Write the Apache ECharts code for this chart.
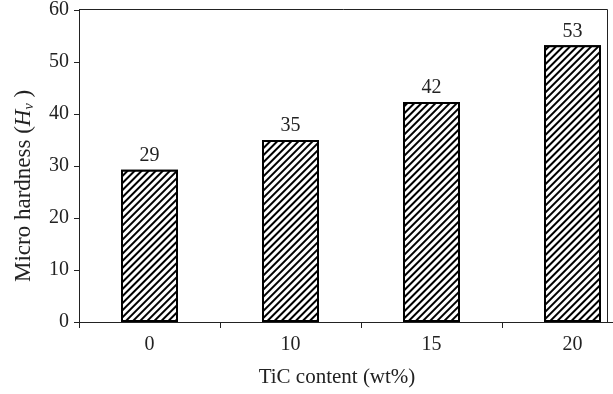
<!DOCTYPE html>
<html><head><meta charset="utf-8">
<script src="https://cdn.jsdelivr.net/npm/echarts@6/dist/echarts.min.js"></script>
<style>html,body{margin:0;padding:0;background:#fff;overflow:hidden;width:613px;height:394px}#c{width:650px;height:394px}</style>
</head><body><div id="c"></div>
<script>
const categories = ['0', '10', '15', '20'];
const hardness = [29.3, 35, 42.3, 53.2];
const barLabels = ['29', '35', '42', '53'];
const yTicks = [0, 10, 20, 30, 40, 50, 60];

const font = '"Liberation Serif", "DejaVu Serif", serif';
const chart = echarts.init(document.getElementById('c'), null, {renderer: 'canvas'});
chart.setOption({
  animation: false,
  grid: {left: 79, top: 9, width: 564, height: 313},
  xAxis: {
    type: 'category', data: categories,
    axisLine: {lineStyle: {color: '#222', width: 1}},
    axisTick: {show: true, length: 6, lineStyle: {color: '#222'}, alignWithLabel: false},
    axisLabel: {color: '#222', fontFamily: font, fontSize: 20, margin: 13},
    name: 'TiC content (wt%)', nameLocation: 'middle', nameGap: 45,
    nameTextStyle: {color: '#222', fontFamily: font, fontSize: 21, padding: [0, 0, 0, -48]}
  },
  yAxis: {
    type: 'value', min: yTicks[0], max: yTicks[yTicks.length - 1], interval: 10,
    splitLine: {show: false},
    axisLine: {show: true, lineStyle: {color: '#222', width: 1}},
    axisTick: {show: true, length: 5, lineStyle: {color: '#222'}},
    axisLabel: {color: '#222', fontFamily: font, fontSize: 20, margin: 10},
    name: '{n|Micro hardness (}{i|H}{s|v}{n| )}', nameLocation: 'middle', nameGap: 43,
    nameTextStyle: {
      padding: [0, 40, 0, 0],
      rich: {
        n: {fontFamily: font, fontSize: 23, color: '#222'},
        i: {fontFamily: font, fontSize: 23, fontStyle: 'italic', color: '#222'},
        s: {fontFamily: font, fontSize: 14, fontStyle: 'italic', color: '#222', padding: [10, 0, 0, 0]}
      }
    }
  },
  series: [{
    type: 'bar', data: hardness, barWidth: 57,
    itemStyle: {
      color: '#fff', borderColor: '#000', borderWidth: 2,
      decal: {symbol: 'rect', symbolSize: 1, color: '#000', backgroundColor: '#fff',
              dashArrayX: [1, 0], dashArrayY: [1.4, 2.8], rotation: -Math.PI / 4}
    },
    label: {show: true, position: 'top', distance: 4, color: '#222', fontFamily: font, fontSize: 20,
            formatter: p => barLabels[p.dataIndex]}
  }],
  graphic: [{
    type: 'polyline', silent: true,
    shape: {points: [[79, 9.5], [607.5, 9.5], [607.5, 322]]},
    style: {stroke: '#222', lineWidth: 1, fill: null}
  }]
});
</script></body></html>
